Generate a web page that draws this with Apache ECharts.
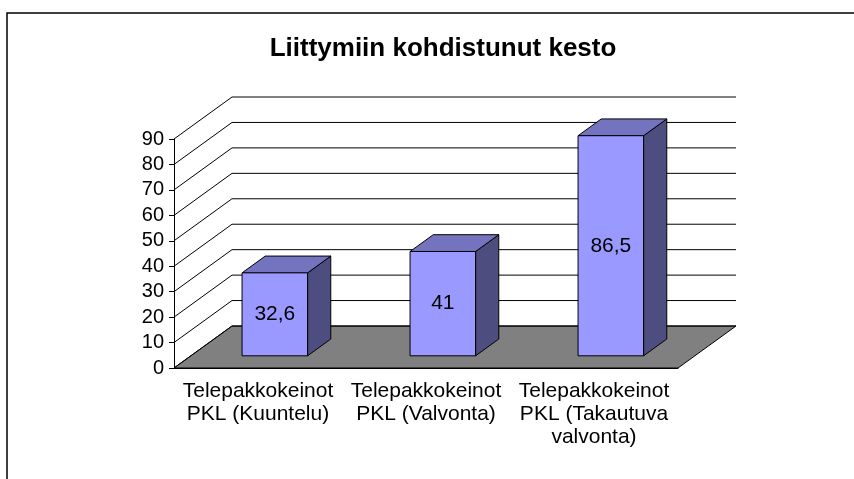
<!DOCTYPE html>
<html>
<head>
    <meta charset="utf-8">
    <title>Liittymiin kohdistunut kesto</title>
    <script src="https://cdn.jsdelivr.net/npm/echarts@6/dist/echarts.min.js"></script>
    <style>
      body, canvas {
        padding: 0;
        margin: 0;
      }
    </style>
</head>
<body>
    <div id="main" style="width:854px;height:479px"></div>
    <script type="text/javascript">
      const categories = [
        'Telepakkokeinot\nPKL (Kuuntelu)',
        'Telepakkokeinot\nPKL (Valvonta)',
        'Telepakkokeinot\nPKL (Takautuva\nvalvonta)'
      ];
      const values = [32.6, 41, 86.5];
      const yTicks = [0, 10, 20, 30, 40, 50, 60, 70, 80, 90];

      // 3d look: offset of the back wall from the front plane, in px
      const DX = 58, DY = -42;
      // bar depth runs from F0 to F1 of the floor depth
      const F0 = 0.29, F1 = 0.69;
      const BAR_HALF = 0.195;
      const FONT = 'Liberation Sans, Arial, sans-serif';

      const main = document.getElementById('main');
      var myChart = echarts.init(main);

      function renderFloor(params, api) {
        const cs = params.coordSys;
        const y = api.coord([0, 0])[1];
        const xl = cs.x, xr = cs.x + cs.width;
        return {
          type: 'polygon',
          shape: { points: [[xl, y], [xr, y], [xr + DX, y + DY], [xl + DX, y + DY]] },
          style: { fill: '#808080', stroke: '#000', lineWidth: 1 }
        };
      }

      function renderGrid(params, api) {
        const cs = params.coordSys;
        const y = api.coord([0, api.value(1)])[1];
        const xl = cs.x, xr = cs.x + cs.width;
        return {
          type: 'polyline',
          shape: { points: [[xl, y], [xl + DX, y + DY], [xr + DX, y + DY]] },
          style: { fill: null, stroke: '#000', lineWidth: 1 }
        };
      }

      function renderBar(params, api) {
        const i = api.value(0);
        const v = api.value(1);
        const base = api.coord([i, 0]);
        const top = api.coord([i, v]);
        const band = api.size([1, 0])[0];
        const hw = band * BAR_HALF;
        const ox = DX * F0, oy = DY * F0;
        const bx = DX * (F1 - F0), by = DY * (F1 - F0);
        const x0 = base[0] - hw + ox, x1 = base[0] + hw + ox;
        const yb = base[1] + oy, yt = top[1] + oy;
        const line = { stroke: '#000', lineWidth: 1 };
        return {
          type: 'group',
          children: [
            {
              type: 'polygon',
              shape: { points: [[x1, yt], [x1 + bx, yt + by], [x1 + bx, yb + by], [x1, yb]] },
              style: Object.assign({ fill: '#4d4d80' }, line)
            },
            {
              type: 'polygon',
              shape: { points: [[x0, yt], [x1, yt], [x1 + bx, yt + by], [x0 + bx, yt + by]] },
              style: Object.assign({ fill: '#7373bf' }, line)
            },
            {
              type: 'rect',
              shape: { x: x0, y: yt, width: x1 - x0, height: yb - yt },
              style: Object.assign({ fill: '#9999ff' }, line)
            },
            {
              type: 'text',
              x: (x0 + x1) / 2,
              y: (yt + yb) / 2,
              style: {
                text: String(v).replace('.', ','),
                fill: '#000',
                fontSize: 21,
                fontFamily: FONT,
                align: 'center',
                verticalAlign: 'middle'
              }
            }
          ]
        };
      }

      option = {
        animation: false,
        backgroundColor: '#fff',
        title: {
          text: 'Liittymiin kohdistunut kesto',
          left: 438,
          top: 31,
          textAlign: 'center',
          textStyle: { fontSize: 26, fontWeight: 'bold', fontFamily: FONT, color: '#000' }
        },
        graphic: [{
          type: 'rect',
          shape: { x: 7, y: 13, width: 900, height: 500 },
          style: { fill: null, stroke: '#000', lineWidth: 1.5 },
          z: 100
        }],
        grid: { left: 174, right: 176, top: 139, bottom: 111 },
        xAxis: {
          type: 'category',
          data: categories,
          axisLine: { lineStyle: { color: '#000', width: 1 } },
          axisTick: { length: 5, lineStyle: { color: '#000' } },
          axisLabel: {
            margin: 12,
            fontSize: 21,
            lineHeight: 23,
            fontFamily: FONT,
            color: '#000',
            interval: 0
          },
          splitLine: { show: false }
        },
        yAxis: {
          type: 'value',
          min: 0,
          max: 90,
          interval: 10,
          axisLine: { show: true, lineStyle: { color: '#000', width: 1 } },
          axisTick: { show: true, length: 5, lineStyle: { color: '#000' } },
          axisLabel: { margin: 10, fontSize: 20, fontFamily: FONT, color: '#000' },
          splitLine: { show: false }
        },
        series: [
          {
            type: 'custom',
            renderItem: renderFloor,
            data: [[0, 0]],
            z: 1,
            silent: true
          },
          {
            type: 'custom',
            renderItem: renderGrid,
            data: yTicks.map(v => [0, v]),
            z: 2,
            silent: true
          },
          {
            type: 'custom',
            renderItem: renderBar,
            data: values.map((v, i) => [i, v]),
            z: 3
          }
        ]
      };
      myChart.setOption(option);
    </script>
</body>
</html>
